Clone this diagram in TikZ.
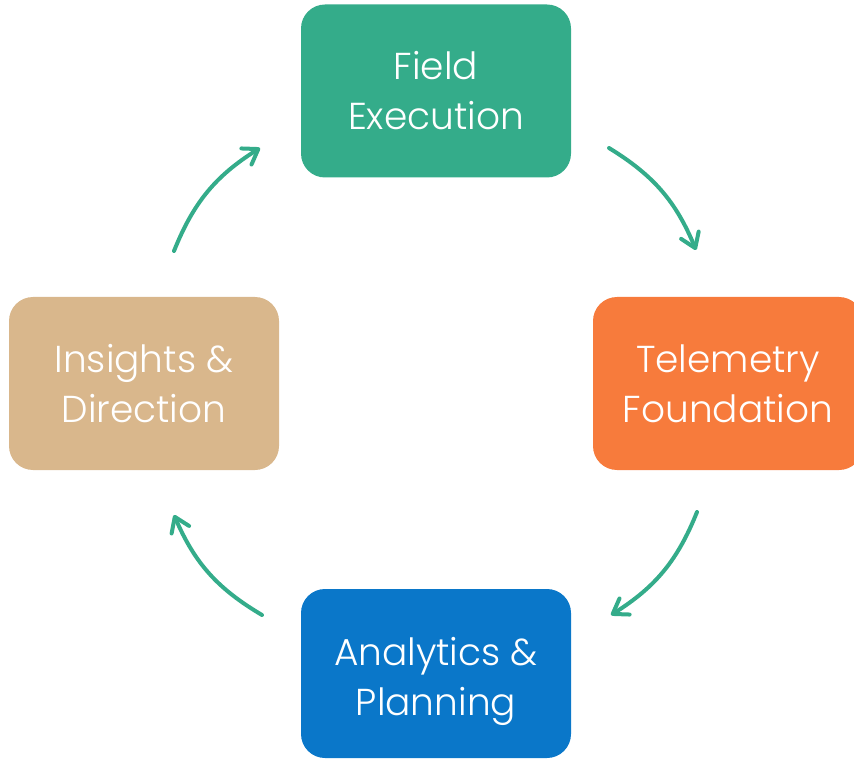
\documentclass[tikz,border=0pt]{standalone}
\usepackage{fontspec}
\setmainfont{Poppins Light}
\usetikzlibrary{arrows.meta}
\definecolor{cteal}{HTML}{34AC8A}
\definecolor{corange}{HTML}{F77B3C}
\definecolor{cblue}{HTML}{0A77C9}
\definecolor{ctan}{HTML}{D9B78C}
\begin{document}
\begin{tikzpicture}[x=1pt,y=-1pt,
  phase/.style={rounded corners=24pt, minimum width=270pt, minimum height=173pt, inner sep=0pt,
    text=white, align=center, font=\fontsize{37.5}{50}\selectfont},
  cyc/.style={draw=cteal, line width=4pt, line cap=round,
    -{Straight Barb[length=14pt, width=19pt, line cap=round, line join=round]}}]
\useasboundingbox (0,0) rectangle (854,759);
\node[phase, fill=cteal] (fe) at (436,91) {Field\\Execution};
\node[phase, fill=corange] (tf) at (728,383.5) {Telemetry\\Foundation};
\node[phase, fill=cblue, minimum height=169pt] (ap) at (436,673.5) {};
\node[phase, fill=none, minimum height=0pt] (apt) at (436,681.5) {Analytics \&\\Planning};
\node[phase, fill=ctan] (id) at (144,383.5) {Insights \&\\Direction};
\coordinate (a1s) at (609,148); \coordinate (a1e) at (696,250);
\coordinate (a2s) at (697,512); \coordinate (a2e) at (611,615);
\coordinate (a3s) at (262,615); \coordinate (a3e) at (174,515);
\coordinate (a4s) at (174,251); \coordinate (a4e) at (260,148);
\draw[cyc] (a1s) to[bend left=18] (a1e);
\draw[cyc] (a2s) to[bend left=18] (a2e);
\draw[cyc] (a3s) to[bend left=18] (a3e);
\draw[cyc] (a4s) to[bend left=18] (a4e);
\end{tikzpicture}
\end{document}
